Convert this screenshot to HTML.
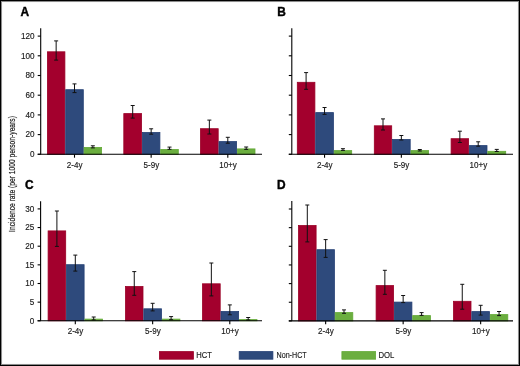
<!DOCTYPE html>
<html><head><meta charset="utf-8"><style>
html,body{margin:0;padding:0;background:#fff;}
body{width:520px;height:366px;overflow:hidden;}
svg{display:block;will-change:transform;}
text{font-family:"Liberation Sans",sans-serif;fill:#1a1a1a;stroke:#1a1a1a;stroke-width:0.15px;}
.pl{font-weight:bold;font-size:11.9px;fill:#000;stroke:#000;stroke-width:0.4px;}
.tl{font-size:8.5px;text-anchor:end;}
.xl{font-size:8.5px;text-anchor:middle;}
.lg{font-size:8.5px;}
.yl{font-size:9.8px;stroke:#1a1a1a;stroke-width:0.2px;}
.ax{stroke:#000;stroke-width:1.1;fill:none;}
.eb{stroke:#111;stroke-width:1;fill:none;}
</style></head><body>
<svg width="520" height="366" viewBox="0 0 520 366">
<rect x="0.5" y="0.5" width="519" height="365" fill="#fff" stroke="#000" stroke-width="1"/>
<rect x="1.5" y="1.5" width="517" height="363" fill="none" stroke="#000" stroke-opacity="0.45" stroke-width="1"/>
<rect x="2.5" y="2.5" width="515" height="361" fill="none" stroke="#000" stroke-opacity="0.02" stroke-width="1"/>
<g>
<text x="20.6" y="16.0" class="pl">A</text>
<rect x="47.40" y="51.80" width="17.50" height="102.50" fill="#A3002D" stroke="#9A0026" stroke-width="0.8"/>
<rect x="65.70" y="89.70" width="17.60" height="64.60" fill="#2E4A7C" stroke="#233F74" stroke-width="0.8"/>
<rect x="84.10" y="147.40" width="17.50" height="6.90" fill="#6BAE3F" stroke="#62A936" stroke-width="0.8"/>
<rect x="123.80" y="113.60" width="17.80" height="40.70" fill="#A3002D" stroke="#9A0026" stroke-width="0.8"/>
<rect x="142.40" y="132.50" width="17.50" height="21.80" fill="#2E4A7C" stroke="#233F74" stroke-width="0.8"/>
<rect x="160.70" y="149.40" width="17.60" height="4.90" fill="#6BAE3F" stroke="#62A936" stroke-width="0.8"/>
<rect x="200.50" y="128.70" width="17.70" height="25.60" fill="#A3002D" stroke="#9A0026" stroke-width="0.8"/>
<rect x="219.00" y="141.60" width="17.60" height="12.70" fill="#2E4A7C" stroke="#233F74" stroke-width="0.8"/>
<rect x="237.40" y="148.90" width="17.60" height="5.40" fill="#6BAE3F" stroke="#62A936" stroke-width="0.8"/>
<path d="M56.15 40.9V60.1M54.15 40.9H58.15M54.15 60.1H58.15" class="eb"/>
<path d="M74.50 83.9V92.6M72.50 83.9H76.50M72.50 92.6H76.50" class="eb"/>
<path d="M92.85 145.8V147.9M90.85 145.8H94.85M90.85 147.9H94.85" class="eb"/>
<path d="M132.70 105.5V118.1M130.70 105.5H134.70M130.70 118.1H134.70" class="eb"/>
<path d="M151.15 128.8V134.2M149.15 128.8H153.15M149.15 134.2H153.15" class="eb"/>
<path d="M169.50 147.1V149.3M167.50 147.1H171.50M167.50 149.3H171.50" class="eb"/>
<path d="M209.35 120.1V134.0M207.35 120.1H211.35M207.35 134.0H211.35" class="eb"/>
<path d="M227.80 137.3V143.2M225.80 137.3H229.80M225.80 143.2H229.80" class="eb"/>
<path d="M246.20 147.0V149.4M244.20 147.0H248.20M244.20 149.4H248.20" class="eb"/>
<path d="M40.7 28.2V154.3" class="ax"/>
<path d="M37.7 154.3H262" class="ax"/>
<path d="M37.7 154.30H40.7" class="ax"/>
<text transform="translate(34.50 157.00) scale(0.96 1)" class="tl">0</text>
<path d="M37.7 134.60H40.7" class="ax"/>
<text transform="translate(34.50 137.30) scale(0.96 1)" class="tl">20</text>
<path d="M37.7 114.90H40.7" class="ax"/>
<text transform="translate(34.50 117.60) scale(0.96 1)" class="tl">40</text>
<path d="M37.7 95.20H40.7" class="ax"/>
<text transform="translate(34.50 97.90) scale(0.96 1)" class="tl">60</text>
<path d="M37.7 75.50H40.7" class="ax"/>
<text transform="translate(34.50 78.20) scale(0.96 1)" class="tl">80</text>
<path d="M37.7 55.80H40.7" class="ax"/>
<text transform="translate(34.50 58.50) scale(0.96 1)" class="tl">100</text>
<path d="M37.7 36.10H40.7" class="ax"/>
<text transform="translate(34.50 38.80) scale(0.96 1)" class="tl">120</text>
<path d="M74.50 154.3V157.70" class="ax"/>
<text transform="translate(74.70 167.70) scale(0.95 1)" class="xl">2-4y</text>
<path d="M151.15 154.3V157.70" class="ax"/>
<text transform="translate(151.35 167.70) scale(0.95 1)" class="xl">5-9y</text>
<path d="M227.80 154.3V157.70" class="ax"/>
<text transform="translate(228.00 167.70) scale(0.95 1)" class="xl">10+y</text>
<text x="277.2" y="16.0" class="pl">B</text>
<rect x="297.30" y="82.30" width="17.60" height="72.00" fill="#A3002D" stroke="#9A0026" stroke-width="0.8"/>
<rect x="315.70" y="112.60" width="17.70" height="41.70" fill="#2E4A7C" stroke="#233F74" stroke-width="0.8"/>
<rect x="334.20" y="150.60" width="17.50" height="3.70" fill="#6BAE3F" stroke="#62A936" stroke-width="0.8"/>
<rect x="374.30" y="125.80" width="17.40" height="28.50" fill="#A3002D" stroke="#9A0026" stroke-width="0.8"/>
<rect x="392.50" y="139.40" width="17.70" height="14.90" fill="#2E4A7C" stroke="#233F74" stroke-width="0.8"/>
<rect x="411.00" y="150.60" width="17.60" height="3.70" fill="#6BAE3F" stroke="#62A936" stroke-width="0.8"/>
<rect x="451.10" y="138.70" width="17.50" height="15.60" fill="#A3002D" stroke="#9A0026" stroke-width="0.8"/>
<rect x="469.40" y="145.60" width="17.60" height="8.70" fill="#2E4A7C" stroke="#233F74" stroke-width="0.8"/>
<rect x="487.80" y="151.30" width="17.90" height="3.00" fill="#6BAE3F" stroke="#62A936" stroke-width="0.8"/>
<path d="M306.10 72.6V89.3M304.10 72.6H308.10M304.10 89.3H308.10" class="eb"/>
<path d="M324.55 107.5V114.4M322.55 107.5H326.55M322.55 114.4H326.55" class="eb"/>
<path d="M342.95 148.7V150.4M340.95 148.7H344.95M340.95 150.4H344.95" class="eb"/>
<path d="M383.00 118.9V130.0M381.00 118.9H385.00M381.00 130.0H385.00" class="eb"/>
<path d="M401.35 135.5V140.0M399.35 135.5H403.35M399.35 140.0H403.35" class="eb"/>
<path d="M419.80 149.5V151.0M417.80 149.5H421.80M417.80 151.0H421.80" class="eb"/>
<path d="M459.85 131.2V142.5M457.85 131.2H461.85M457.85 142.5H461.85" class="eb"/>
<path d="M478.20 141.8V146.2M476.20 141.8H480.20M476.20 146.2H480.20" class="eb"/>
<path d="M496.75 149.4V151.5M494.75 149.4H498.75M494.75 151.5H498.75" class="eb"/>
<path d="M291.8 28.2V154.3" class="ax"/>
<path d="M288.8 154.3H513" class="ax"/>
<path d="M288.8 154.30H291.8" class="ax"/>
<path d="M288.8 134.60H291.8" class="ax"/>
<path d="M288.8 114.90H291.8" class="ax"/>
<path d="M288.8 95.20H291.8" class="ax"/>
<path d="M288.8 75.50H291.8" class="ax"/>
<path d="M288.8 55.80H291.8" class="ax"/>
<path d="M288.8 36.10H291.8" class="ax"/>
<path d="M324.55 154.3V157.70" class="ax"/>
<text transform="translate(324.75 167.70) scale(0.95 1)" class="xl">2-4y</text>
<path d="M401.35 154.3V157.70" class="ax"/>
<text transform="translate(401.55 167.70) scale(0.95 1)" class="xl">5-9y</text>
<path d="M478.20 154.3V157.70" class="ax"/>
<text transform="translate(478.40 167.70) scale(0.95 1)" class="xl">10+y</text>
<text x="24.9" y="188.7" class="pl">C</text>
<rect x="48.10" y="230.90" width="17.60" height="89.90" fill="#A3002D" stroke="#9A0026" stroke-width="0.8"/>
<rect x="66.50" y="264.70" width="17.60" height="56.10" fill="#2E4A7C" stroke="#233F74" stroke-width="0.8"/>
<rect x="84.90" y="319.10" width="17.60" height="1.70" fill="#6BAE3F" stroke="#62A936" stroke-width="0.8"/>
<rect x="125.50" y="286.50" width="17.50" height="34.30" fill="#A3002D" stroke="#9A0026" stroke-width="0.8"/>
<rect x="143.80" y="308.80" width="17.70" height="12.00" fill="#2E4A7C" stroke="#233F74" stroke-width="0.8"/>
<rect x="162.30" y="319.10" width="17.60" height="1.70" fill="#6BAE3F" stroke="#62A936" stroke-width="0.8"/>
<rect x="202.50" y="283.80" width="17.70" height="37.00" fill="#A3002D" stroke="#9A0026" stroke-width="0.8"/>
<rect x="221.00" y="311.50" width="17.60" height="9.30" fill="#2E4A7C" stroke="#233F74" stroke-width="0.8"/>
<rect x="239.40" y="319.60" width="17.60" height="1.20" fill="#6BAE3F" stroke="#62A936" stroke-width="0.8"/>
<path d="M56.90 211.0V246.4M54.90 211.0H58.90M54.90 246.4H58.90" class="eb"/>
<path d="M75.30 255.1V271.1M73.30 255.1H77.30M73.30 271.1H77.30" class="eb"/>
<path d="M93.70 317.0V319.9M91.70 317.0H95.70M91.70 319.9H95.70" class="eb"/>
<path d="M134.25 271.6V295.3M132.25 271.6H136.25M132.25 295.3H136.25" class="eb"/>
<path d="M152.65 303.3V310.9M150.65 303.3H154.65M150.65 310.9H154.65" class="eb"/>
<path d="M171.10 316.6V319.7M169.10 316.6H173.10M169.10 319.7H173.10" class="eb"/>
<path d="M211.35 263.0V295.9M209.35 263.0H213.35M209.35 295.9H213.35" class="eb"/>
<path d="M229.80 304.9V314.8M227.80 304.9H231.80M227.80 314.8H231.80" class="eb"/>
<path d="M248.20 317.5V320.0M246.20 317.5H250.20M246.20 320.0H250.20" class="eb"/>
<path d="M40.6 201.3V320.8" class="ax"/>
<path d="M37.6 320.8H262" class="ax"/>
<path d="M37.6 320.80H40.6" class="ax"/>
<text transform="translate(34.40 323.50) scale(0.96 1)" class="tl">0</text>
<path d="M37.6 302.15H40.6" class="ax"/>
<text transform="translate(34.40 304.85) scale(0.96 1)" class="tl">5</text>
<path d="M37.6 283.50H40.6" class="ax"/>
<text transform="translate(34.40 286.20) scale(0.96 1)" class="tl">10</text>
<path d="M37.6 264.85H40.6" class="ax"/>
<text transform="translate(34.40 267.55) scale(0.96 1)" class="tl">15</text>
<path d="M37.6 246.20H40.6" class="ax"/>
<text transform="translate(34.40 248.90) scale(0.96 1)" class="tl">20</text>
<path d="M37.6 227.55H40.6" class="ax"/>
<text transform="translate(34.40 230.25) scale(0.96 1)" class="tl">25</text>
<path d="M37.6 208.90H40.6" class="ax"/>
<text transform="translate(34.40 211.60) scale(0.96 1)" class="tl">30</text>
<path d="M75.30 320.8V324.20" class="ax"/>
<text transform="translate(75.50 334.20) scale(0.95 1)" class="xl">2-4y</text>
<path d="M152.65 320.8V324.20" class="ax"/>
<text transform="translate(152.85 334.20) scale(0.95 1)" class="xl">5-9y</text>
<path d="M229.80 320.8V324.20" class="ax"/>
<text transform="translate(230.00 334.20) scale(0.95 1)" class="xl">10+y</text>
<text x="277.0" y="188.8" class="pl">D</text>
<rect x="298.50" y="225.50" width="17.60" height="95.40" fill="#A3002D" stroke="#9A0026" stroke-width="0.8"/>
<rect x="316.90" y="249.70" width="17.50" height="71.20" fill="#2E4A7C" stroke="#233F74" stroke-width="0.8"/>
<rect x="335.20" y="312.60" width="17.60" height="8.30" fill="#6BAE3F" stroke="#62A936" stroke-width="0.8"/>
<rect x="376.10" y="285.60" width="17.50" height="35.30" fill="#A3002D" stroke="#9A0026" stroke-width="0.8"/>
<rect x="394.40" y="302.10" width="17.50" height="18.80" fill="#2E4A7C" stroke="#233F74" stroke-width="0.8"/>
<rect x="412.70" y="315.60" width="17.80" height="5.30" fill="#6BAE3F" stroke="#62A936" stroke-width="0.8"/>
<rect x="453.50" y="301.30" width="17.50" height="19.60" fill="#A3002D" stroke="#9A0026" stroke-width="0.8"/>
<rect x="471.80" y="311.60" width="17.70" height="9.30" fill="#2E4A7C" stroke="#233F74" stroke-width="0.8"/>
<rect x="490.30" y="314.60" width="17.50" height="6.30" fill="#6BAE3F" stroke="#62A936" stroke-width="0.8"/>
<path d="M307.30 205.0V241.9M305.30 205.0H309.30M305.30 241.9H309.30" class="eb"/>
<path d="M325.65 239.6V257.4M323.65 239.6H327.65M323.65 257.4H327.65" class="eb"/>
<path d="M344.00 309.9V313.3M342.00 309.9H346.00M342.00 313.3H346.00" class="eb"/>
<path d="M384.85 270.3V294.3M382.85 270.3H386.85M382.85 294.3H386.85" class="eb"/>
<path d="M403.15 295.5V302.6M401.15 295.5H405.15M401.15 302.6H405.15" class="eb"/>
<path d="M421.60 312.6V315.4M419.60 312.6H423.60M419.60 315.4H423.60" class="eb"/>
<path d="M462.25 284.3V309.2M460.25 284.3H464.25M460.25 309.2H464.25" class="eb"/>
<path d="M480.65 305.3V315.1M478.65 305.3H482.65M478.65 315.1H482.65" class="eb"/>
<path d="M499.05 311.5V315.6M497.05 311.5H501.05M497.05 315.6H501.05" class="eb"/>
<path d="M291.8 201.0V320.9" class="ax"/>
<path d="M288.8 320.9H513" class="ax"/>
<path d="M288.8 320.90H291.8" class="ax"/>
<path d="M288.8 302.25H291.8" class="ax"/>
<path d="M288.8 283.60H291.8" class="ax"/>
<path d="M288.8 264.95H291.8" class="ax"/>
<path d="M288.8 246.30H291.8" class="ax"/>
<path d="M288.8 227.65H291.8" class="ax"/>
<path d="M288.8 209.00H291.8" class="ax"/>
<path d="M325.65 320.9V324.30" class="ax"/>
<text transform="translate(325.85 334.30) scale(0.95 1)" class="xl">2-4y</text>
<path d="M403.15 320.9V324.30" class="ax"/>
<text transform="translate(403.35 334.30) scale(0.95 1)" class="xl">5-9y</text>
<path d="M480.65 320.9V324.30" class="ax"/>
<text transform="translate(480.85 334.30) scale(0.95 1)" class="xl">10+y</text>
<text class="yl" transform="translate(15.4 231.9) rotate(-90)" textLength="115.8" lengthAdjust="spacingAndGlyphs">Incidence rate (per 1000 person-years)</text>
<rect x="159.4" y="351.6" width="34.0" height="7.6" fill="#A3002D" stroke="#9A0026" stroke-width="0.8"/>
<text x="196.2" y="357.7" class="lg" textLength="15.6" lengthAdjust="spacingAndGlyphs">HCT</text>
<rect x="239.2" y="351.6" width="33.7" height="7.6" fill="#2E4A7C" stroke="#233F74" stroke-width="0.8"/>
<text x="276.5" y="357.9" class="lg" textLength="30.2" lengthAdjust="spacingAndGlyphs">Non-HCT</text>
<rect x="341.9" y="351.6" width="33.7" height="7.6" fill="#6BAE3F" stroke="#62A936" stroke-width="0.8"/>
<text x="378.5" y="357.7" class="lg" textLength="15.9" lengthAdjust="spacingAndGlyphs">DOL</text>
</g>
</svg>
</body></html>
